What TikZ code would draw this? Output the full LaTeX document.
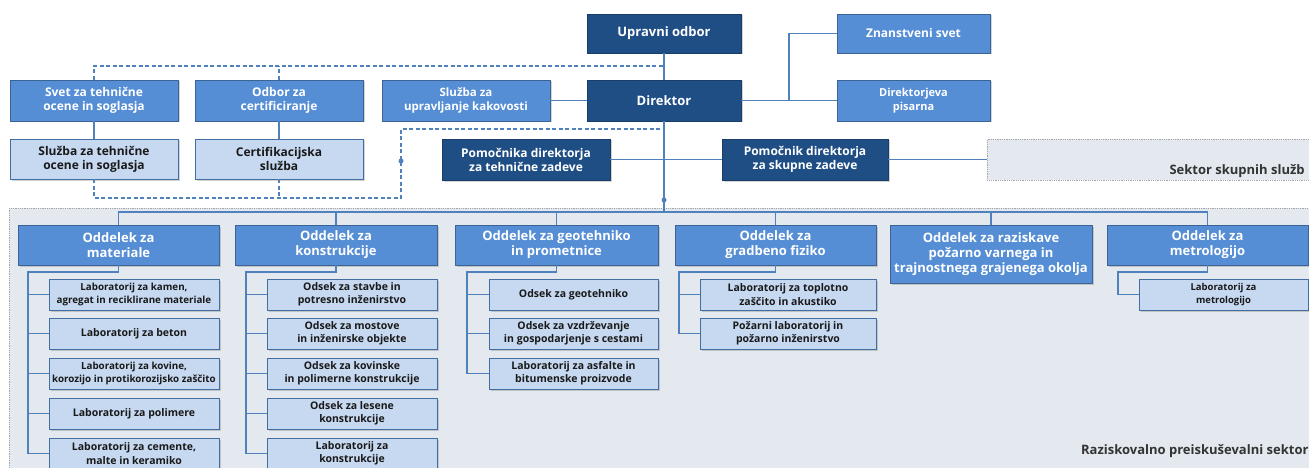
\documentclass[tikz,border=0pt]{standalone}
\usepackage{fontspec}
\setmainfont{Open Sans}
\usetikzlibrary{shadows}
\definecolor{navy}{HTML}{1F4E85}
\definecolor{midblue}{HTML}{558ED5}
\definecolor{paleblue}{HTML}{C6D9F1}
\definecolor{linkblue}{HTML}{4F81BD}
\definecolor{sectorgrey}{HTML}{E3E9EE}
\def\hd{\fontsize{13}{15}\selectfont}
\def\md{\fontsize{12}{14}\selectfont}
\def\sm{\fontsize{10.5}{13.3}\selectfont}
\tikzset{
	box/.style={rectangle, align=center, inner sep=1pt, font=\bfseries, drop shadow={shadow xshift=1.5pt, shadow yshift=-1.5pt, opacity=0.35}},
	darkbox/.style={box, fill=navy, draw=navy!80!black, line width=0.8pt, text=white},
	midbox/.style={box, fill=midblue, draw=midblue!70!black, line width=0.8pt, text=white},
	palebox/.style={box, fill=paleblue, draw=linkblue!85!black, line width=0.8pt, text=black!90},
	link/.style={draw=linkblue, line width=1.5pt},
	dlink/.style={link, dash pattern=on 4pt off 2.5pt},
	dot/.style={circle, fill=linkblue, inner sep=0pt, minimum size=5pt},
	sector/.style={rectangle, fill=sectorgrey, draw=black!35, densely dotted, line width=0.8pt, anchor=north west},
}
\begin{document}
\begin{tikzpicture}[x=1pt, y=-1pt]
	\useasboundingbox (0,0) rectangle (1309,468);
	
	\node[sector, minimum width=1330pt, minimum height=280pt] (rps) at (9,208) {};
	\node[sector, minimum width=340pt, minimum height=41pt] (sks) at (987,139) {};
	\node[anchor=east, font=\hd\bfseries, text=black!80] (rpsTxt) at (1312,451) {Raziskovalno preiskuševalni sektor};
	\node[anchor=west, font=\hd\bfseries, text=black!80] (sksTxt) at (1166,171) {Sektor skupnih služb};
	
	\node[darkbox, minimum width=154pt, minimum height=39pt, font=\hd\bfseries] (upr) at (664,33.5) {Upravni odbor};
	\node[darkbox, minimum width=154pt, minimum height=41pt, font=\hd\bfseries] (dir) at (664,100.5) {Direktor};
	\node[midbox, minimum width=153pt, minimum height=39pt, font=\md\bfseries] (znan) at (913.5,33.5) {Znanstveni svet};
	\node[midbox, minimum width=153pt, minimum height=41pt, font=\fontsize{11}{13.5}\selectfont\bfseries] (pis) at (913.5,100.5) {Direktorjeva\\pisarna};
	\node[midbox, minimum width=168pt, minimum height=41pt, font=\fontsize{11.5}{14}\selectfont\bfseries] (kak) at (466,100.5) {Služba za\\upravljanje kakovosti};
	\node[midbox, minimum width=168pt, minimum height=41pt, font=\md\bfseries] (svet) at (94,100.5) {Svet za tehnične\\ocene in soglasja};
	\node[midbox, minimum width=168pt, minimum height=41pt, font=\md\bfseries] (odbor) at (279,100.5) {Odbor za\\certificiranje};
	\node[palebox, minimum width=168pt, minimum height=40pt, font=\md\bfseries] (tsl) at (94,159) {Služba za tehnične\\ocene in soglasja};
	\node[palebox, minimum width=168pt, minimum height=40pt, font=\md\bfseries] (csl) at (279,159) {Certifikacijska\\služba};
	\node[darkbox, minimum width=168pt, minimum height=41pt, font=\md\bfseries] (pomT) at (526,159.5) {Pomočnika direktorja\\za tehnične zadeve};
	\node[darkbox, minimum width=166pt, minimum height=41pt, font=\md\bfseries] (pomS) at (805,159.5) {Pomočnik direktorja\\za skupne zadeve};
	
	\node[midbox, minimum width=201pt, minimum height=40pt, font=\hd\bfseries] (mat) at (118.5,245) {Oddelek za\\materiale};
	\node[midbox, minimum width=202pt, minimum height=40pt, font=\hd\bfseries] (kon) at (336,245) {Oddelek za\\konstrukcije};
	\node[midbox, minimum width=203pt, minimum height=40pt, font=\hd\bfseries] (geo) at (556.5,245) {Oddelek za geotehniko\\in prometnice};
	\node[midbox, minimum width=201pt, minimum height=40pt, font=\hd\bfseries] (fiz) at (775.5,245) {Oddelek za\\gradbeno fiziko};
	\node[midbox, minimum width=202pt, minimum height=58pt, font=\hd\bfseries] (raz) at (991,254) {Oddelek za raziskave\\požarno varnega in\\trajnostnega grajenega okolja};
	\node[midbox, minimum width=201pt, minimum height=40pt, font=\hd\bfseries] (met) at (1207.5,245) {Oddelek za\\metrologijo};
	
	\node[palebox, minimum width=170pt, minimum height=31pt, font=\fontsize{9.8}{13.3}\selectfont\bfseries] (mat1) at (134,294.5) {Laboratorij za kamen,\\agregat in reciklirane materiale};
	\node[palebox, minimum width=170pt, minimum height=31pt, font=\sm\bfseries] (mat2) at (134,333.5) {Laboratorij za beton};
	\node[palebox, minimum width=170pt, minimum height=31pt, font=\fontsize{9.8}{13.3}\selectfont\bfseries] (mat3) at (134,373.5) {Laboratorij za kovine,\\korozijo in protikorozijsko zaščito};
	\node[palebox, minimum width=170pt, minimum height=31pt, font=\sm\bfseries] (mat4) at (134,413.5) {Laboratorij za polimere};
	\node[palebox, minimum width=170pt, minimum height=31pt, font=\sm\bfseries] (mat5) at (134,453.5) {Laboratorij za cemente,\\malte in keramiko};
	
	\node[palebox, minimum width=170pt, minimum height=31pt, font=\sm\bfseries] (kon1) at (352,294.5) {Odsek za stavbe in\\potresno inženirstvo};
	\node[palebox, minimum width=170pt, minimum height=31pt, font=\sm\bfseries] (kon2) at (352,333.5) {Odsek za mostove\\in inženirske objekte};
	\node[palebox, minimum width=170pt, minimum height=31pt, font=\sm\bfseries] (kon3) at (352,373.5) {Odsek za kovinske\\in polimerne konstrukcije};
	\node[palebox, minimum width=170pt, minimum height=31pt, font=\sm\bfseries] (kon4) at (352,413.5) {Odsek za lesene\\konstrukcije};
	\node[palebox, minimum width=170pt, minimum height=31pt, font=\sm\bfseries] (kon5) at (352,453.5) {Laboratorij za\\konstrukcije};
	
	\node[palebox, minimum width=169pt, minimum height=31pt, font=\sm\bfseries] (geo1) at (573.5,294.5) {Odsek za geotehniko};
	\node[palebox, minimum width=169pt, minimum height=31pt, font=\sm\bfseries] (geo2) at (573.5,333.5) {Odsek za vzdrževanje\\in gospodarjenje s cestami};
	\node[palebox, minimum width=169pt, minimum height=31pt, font=\sm\bfseries] (geo3) at (573.5,373.5) {Laboratorij za asfalte in\\bitumenske proizvode};
	
	\node[palebox, minimum width=176pt, minimum height=31pt, font=\sm\bfseries] (fiz1) at (788,294.5) {Laboratorij za toplotno\\zaščito in akustiko};
	\node[palebox, minimum width=176pt, minimum height=31pt, font=\sm\bfseries] (fiz2) at (788,333.5) {Požarni laboratorij in\\požarno inženirstvo};
	
	\node[palebox, minimum width=169pt, minimum height=31pt, font=\fontsize{9.5}{13}\selectfont\bfseries] (met1) at (1223.5,294.5) {Laboratorij za\\metrologijo};
	
	\coordinate (bar) at (664,212);
	\coordinate (dTop) at (664,66);
	\coordinate (dBot) at (664,129);
	\coordinate (dCorner) at (401,198);
	\coordinate (br) at (789,100.5);
	\coordinate (matT) at (28,272);
	\coordinate (konT) at (246,272);
	\coordinate (geoT) at (467,272);
	\coordinate (fizT) at (679,272);
	\coordinate (metT) at (1118,272);
	
	\draw[link] (upr) -- (dir);
	\draw[link] (dir) -- (bar);
	\draw[link] (kak) -- (dir);
	\draw[link] (dir) -- (pis);
	\draw[link] (br) |- (znan.west);
	\draw[link] (pomT) -- (pomS);
	\draw[link] (pomS) -- (pomS.east -| sks.west);
	\draw[link] (svet) -- (tsl);
	\draw[link] (odbor) -- (csl);
	
	\draw[dlink] (svet.north) |- (dTop);
	\draw[dlink] (odbor.north) -- (odbor.north |- dTop);
	\draw[dlink] (tsl.south) |- (dCorner) |- (dBot);
	\draw[dlink] (csl.south) -- (csl.south |- dCorner);
	\node[dot] (dotL) at (401,161) {};
	\node[dot] (dotC) at (664,200) {};
	
	\draw[link] (mat.north) |- (bar) -| (met.north);
	\draw[link] (kon.north) -- (kon.north |- bar);
	\draw[link] (geo.north) -- (geo.north |- bar);
	\draw[link] (fiz.north) -- (fiz.north |- bar);
	\draw[link] (raz.north) -- (raz.north |- bar);
	
	\draw[link] (mat.south) |- (matT) |- (mat5.west);
	\draw[link] (matT |- mat1.west) -- (mat1.west);
	\draw[link] (matT |- mat2.west) -- (mat2.west);
	\draw[link] (matT |- mat3.west) -- (mat3.west);
	\draw[link] (matT |- mat4.west) -- (mat4.west);
	
	\draw[link] (kon.south) |- (konT) |- (kon5.west);
	\draw[link] (konT |- kon1.west) -- (kon1.west);
	\draw[link] (konT |- kon2.west) -- (kon2.west);
	\draw[link] (konT |- kon3.west) -- (kon3.west);
	\draw[link] (konT |- kon4.west) -- (kon4.west);
	
	\draw[link] (geo.south) |- (geoT) |- (geo3.west);
	\draw[link] (geoT |- geo1.west) -- (geo1.west);
	\draw[link] (geoT |- geo2.west) -- (geo2.west);
	
	\draw[link] (fiz.south) |- (fizT) |- (fiz2.west);
	\draw[link] (fizT |- fiz1.west) -- (fiz1.west);
	
	\draw[link] (met.south) |- (metT) |- (met1.west);
\end{tikzpicture}
\end{document}
